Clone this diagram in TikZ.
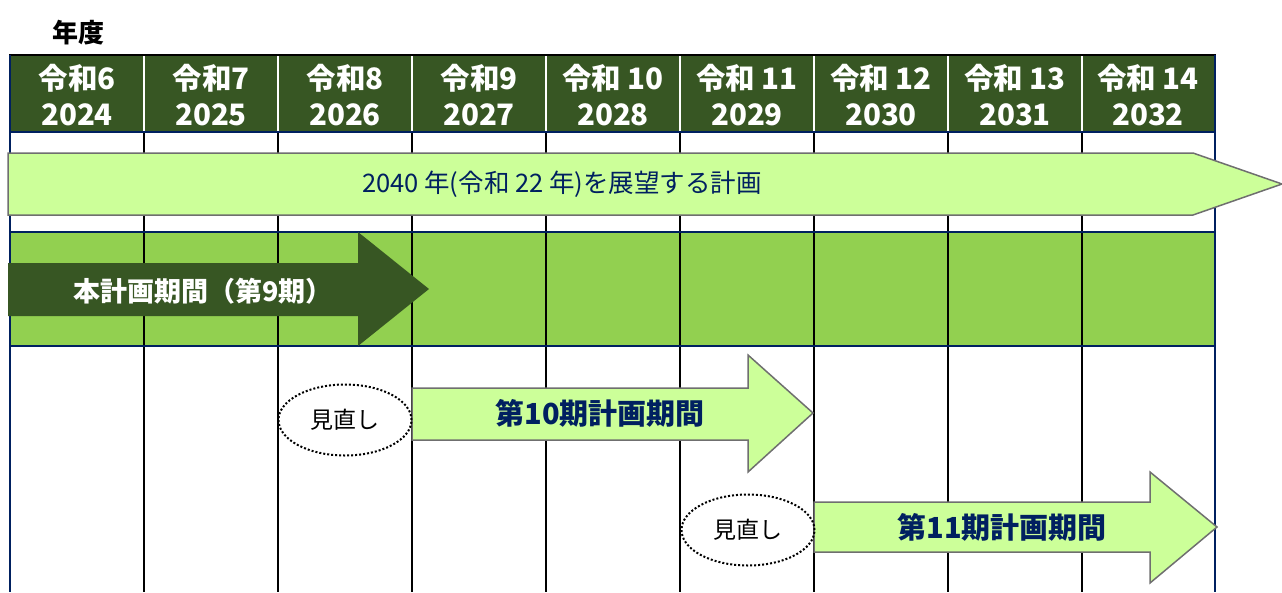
\documentclass[tikz,border=0pt]{standalone}
\usepackage{fontspec}
\setmainfont{Noto Sans CJK JP}
\usetikzlibrary{shapes.geometric}
\definecolor{headgreen}{HTML}{375623}
\definecolor{bandgreen}{HTML}{92D050}
\definecolor{palegreen}{HTML}{CCFF99}
\definecolor{navy}{HTML}{002060}
\definecolor{arrowgray}{HTML}{6F6F6F}

\begin{document}
\begin{tikzpicture}[x=1pt, y=-1pt,
    year/.style={text=white, align=center, inner sep=0pt,
        font=\fontsize{29.5}{36}\selectfont\bfseries},
    gridline/.style={line width=2pt, black},
    frameline/.style={line width=2pt, navy},
    plan/.style={fill=palegreen, draw=arrowgray, line width=1.5pt, line join=miter},
    planlabel/.style={text=navy, font=\fontsize{29}{34}\selectfont\bfseries},
    review/.style={ellipse, draw=black, line width=2pt, dash pattern=on 2pt off 2pt,
        minimum width=133pt, minimum height=71pt, inner sep=0pt,
        font=\fontsize{23}{28}\selectfont}
]
    \useasboundingbox (0,0) rectangle (1282,592);
    \fill[headgreen] (10,55) rectangle (1215,132);
    \fill[bandgreen] (10,232) rectangle (1215,346);
    \foreach \x in {144,278,412,546,680,814,948,1082} {
        \draw[gridline] (\x,132) -- (\x,592);
        \draw[line width=2pt, white] (\x,56) -- (\x,131);
    }
    \draw[line width=2.5pt, black] (9,55) -- (1216,55);
    \draw[frameline] (10,132) -- (1215,132);
    \draw[frameline] (10,232) -- (1215,232);
    \draw[frameline] (10,346) -- (1215,346);
    \draw[frameline] (10,55) -- (10,592);
    \draw[frameline] (1215,55) -- (1215,592);

    \node[font=\fontsize{26}{30}\selectfont\bfseries] (nendo) at (78,33) {年度};
    \node[year] (r6) at (77,95) {令和6\\2024};
    \node[year] (r7) at (211,95) {令和7\\2025};
    \node[year] (r8) at (345,95) {令和8\\2026};
    \node[year] (r9) at (479,95) {令和9\\2027};
    \node[year] (r10) at (613,95) {令和 10\\2028};
    \node[year] (r11) at (747,95) {令和 11\\2029};
    \node[year] (r12) at (881,95) {令和 12\\2030};
    \node[year] (r13) at (1015,95) {令和 13\\2031};
    \node[year] (r14) at (1148,95) {令和 14\\2032};

    \draw[plan] (8,153) -- (1193,153) -- (1282,184) -- (1193,215) -- (8,215) -- cycle;
    \node[text=navy, font=\fontsize{25.5}{30}\selectfont] (vision) at (562,184) {2040 年(令和 22 年)を展望する計画};

    \fill[headgreen] (8,263) -- (358,263) -- (358,232) -- (429,289) -- (358,346) -- (358,316) -- (8,316) -- cycle;
    \node[text=white, font=\fontsize{27}{32}\selectfont\bfseries] (current) at (203,291) {本計画期間（第9期）};

    \draw[plan] (412,388) -- (748,388) -- (748,355) -- (813,413) -- (748,472) -- (748,440) -- (412,440) -- cycle;
    \node[planlabel] (tenth) at (600,413) {第10期計画期間};
    \node[review] (review1) at (345,420) {見直し};

    \draw[plan] (814,502) -- (1150,502) -- (1150,472) -- (1217,527) -- (1150,583) -- (1150,552) -- (814,552) -- cycle;
    \node[planlabel] (eleventh) at (1002,527) {第11期計画期間};
    \node[review] (review2) at (748,530) {見直し};
\end{tikzpicture}
\end{document}
